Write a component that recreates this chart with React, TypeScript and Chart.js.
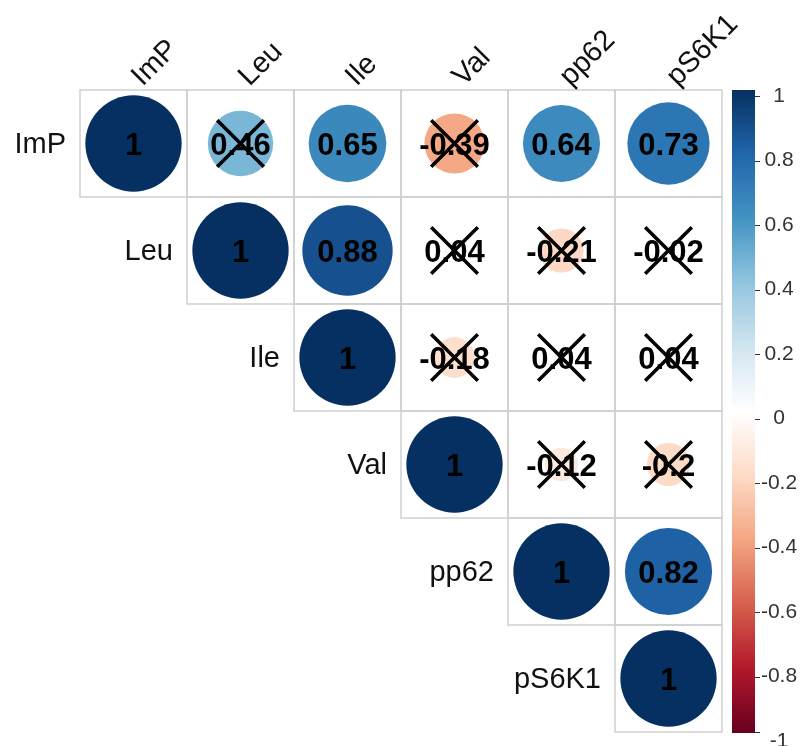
import React, { useEffect, useRef } from "react";
import Chart from "chart.js/auto";

// Variables of the correlation matrix (rows and columns share the same order)
const variables = ["ImP", "Leu", "Ile", "Val", "pp62", "pS6K1"];

// Upper triangle of the correlation matrix, each row starting at the diagonal
const rowImP = [1, 0.46, 0.65, -0.39, 0.64, 0.73];
const rowLeu = [1, 0.88, 0.04, -0.21, -0.02];
const rowIle = [1, -0.18, 0.04, 0.04];
const rowVal = [1, -0.12, -0.2];
const rowPp62 = [1, 0.82];
const rowPS6K1 = [1];
const corrRows = [rowImP, rowLeu, rowIle, rowVal, rowPp62, rowPS6K1];

// Pairs whose correlation is not significant; these cells are crossed out
const insignificantPairs = [
  ["ImP", "Leu"],
  ["ImP", "Val"],
  ["Leu", "Val"],
  ["Leu", "pp62"],
  ["Leu", "pS6K1"],
  ["Ile", "Val"],
  ["Ile", "pp62"],
  ["Ile", "pS6K1"],
  ["Val", "pp62"],
  ["Val", "pS6K1"],
];

// Colour key labels, top to bottom
const legendTicks = ["1", "0.8", "0.6", "0.4", "0.2", "0", "-0.2", "-0.4", "-0.6", "-0.8", "-1"];

// Diverging red-white-blue palette from -1 to 1
const palette = [
  "#67001F", "#B2182B", "#D6604D", "#F4A582", "#FDDBC7", "#FFFFFF",
  "#D1E5F0", "#92C5DE", "#4393C3", "#2166AC", "#053061",
];

const FONT = "'Liberation Sans', Arial, sans-serif";

function hexToRgb(h: string): number[] {
  return [1, 3, 5].map((i) => parseInt(h.slice(i, i + 2), 16));
}

function corrColor(r: number): string {
  const t = Math.max(0, Math.min(1, (r + 1) / 2)) * (palette.length - 1);
  const i = Math.min(palette.length - 2, Math.floor(t));
  const f = t - i;
  const a = hexToRgb(palette[i]);
  const b = hexToRgb(palette[i + 1]);
  const c = a.map((v, k) => Math.round(v + (b[k] - v) * f));
  return `rgb(${c[0]},${c[1]},${c[2]})`;
}

function formatCorr(r: number): string {
  return String(Number(r.toFixed(2)));
}

type Cell = { x: number; y: number; r: number };

const cells: Cell[] = [];
corrRows.forEach((row, i) => {
  row.forEach((r, k) => {
    cells.push({ x: i + k + 0.5, y: i + 0.5, r });
  });
});

const crossCells = insignificantPairs.map(([a, b]) => {
  const i = variables.indexOf(a);
  const j = variables.indexOf(b);
  return { x: j + 0.5, y: i + 0.5 };
});

const n = variables.length;

const corrPlugin = {
  id: "corrDecor",
  beforeDatasetsDraw(chart: any) {
    const { ctx, scales } = chart;
    const xs = scales.x;
    const ys = scales.y;
    ctx.save();
    ctx.strokeStyle = "#cfcfcf";
    ctx.lineWidth = 1.5;
    for (let i = 0; i < n; i++) {
      for (let j = i; j < n; j++) {
        const x0 = xs.getPixelForValue(j);
        const x1 = xs.getPixelForValue(j + 1);
        const y0 = ys.getPixelForValue(i);
        const y1 = ys.getPixelForValue(i + 1);
        ctx.strokeRect(x0, y0, x1 - x0, y1 - y0);
      }
    }
    ctx.restore();
  },
  afterDatasetsDraw(chart: any) {
    const { ctx, scales } = chart;
    const xs = scales.x;
    const ys = scales.y;
    ctx.save();
    ctx.fillStyle = "#000";
    ctx.font = `bold 31px ${FONT}`;
    ctx.textAlign = "center";
    ctx.textBaseline = "middle";
    cells.forEach((c) => {
      ctx.fillText(formatCorr(c.r), xs.getPixelForValue(c.x), ys.getPixelForValue(c.y) + 3);
    });
    ctx.restore();
  },
  afterDraw(chart: any) {
    const { ctx, scales, chartArea } = chart;
    const xs = scales.x;
    const ys = scales.y;
    ctx.save();
    ctx.fillStyle = "#111";
    ctx.font = `29px ${FONT}`;

    // row labels, right-aligned next to the diagonal cell
    ctx.textAlign = "right";
    ctx.textBaseline = "middle";
    variables.forEach((v, i) => {
      ctx.fillText(v, xs.getPixelForValue(i) - 14, ys.getPixelForValue(i + 0.5) + 1);
    });

    // column labels, rotated 45 degrees above the top row
    ctx.textAlign = "left";
    ctx.textBaseline = "alphabetic";
    variables.forEach((v, j) => {
      ctx.save();
      ctx.translate(xs.getPixelForValue(j + 0.5) + 9, chartArea.top - 3);
      ctx.rotate(-Math.PI / 4);
      ctx.fillText(v, 0, 0);
      ctx.restore();
    });

    // colour key
    const barL = chartArea.right + 10;
    const barR = chartArea.right + 33;
    const barT = chartArea.top;
    const barB = chartArea.bottom + 1;
    const grad = ctx.createLinearGradient(0, barT, 0, barB);
    palette.forEach((col, k) => {
      grad.addColorStop(1 - k / (palette.length - 1), col);
    });
    ctx.fillStyle = grad;
    ctx.fillRect(barL, barT, barR - barL, barB - barT);

    const labT = chartArea.top + 6;
    const labB = chartArea.bottom + 9;
    ctx.strokeStyle = "#333";
    ctx.lineWidth = 1;
    ctx.fillStyle = "#333";
    ctx.font = `21px ${FONT}`;
    ctx.textAlign = "center";
    ctx.textBaseline = "middle";
    legendTicks.forEach((t, k) => {
      const y = labT + ((labB - labT) * k) / (legendTicks.length - 1);
      const ty = Math.round(Math.max(barT, Math.min(barB - 1, y))) + 0.5;
      ctx.beginPath();
      ctx.moveTo(barR, ty);
      ctx.lineTo(barR + 5, ty);
      ctx.stroke();
      ctx.fillText(t, chartArea.right + 57, y);
    });
    ctx.restore();
  },
};

export default function App() {
  const canvasRef = useRef<HTMLCanvasElement | null>(null);

  useEffect(() => {
    const canvas = canvasRef.current;
    if (!canvas) return;
    const cellRadius = (ctx: any, r: number) => {
      const area = ctx.chart.chartArea;
      const cell = area ? (area.right - area.left) / n : 107;
      return 0.45 * cell * Math.sqrt(Math.abs(r));
    };
    const chart = new Chart(canvas, {
      type: "scatter",
      data: {
        datasets: [
          {
            label: "not significant",
            data: crossCells,
            order: 0,
            pointStyle: "crossRot",
            pointRadius: 33,
            pointHoverRadius: 33,
            borderColor: "#000",
            borderWidth: 3.5,
            pointBorderWidth: 3.5,
            pointHoverBorderWidth: 3.5,
            backgroundColor: "rgba(0,0,0,0)",
          },
          {
            label: "correlation",
            data: cells,
            order: 1,
            pointStyle: "circle",
            pointRadius: (ctx: any) => cellRadius(ctx, (ctx.raw as Cell)?.r ?? 0),
            pointHoverRadius: (ctx: any) => cellRadius(ctx, (ctx.raw as Cell)?.r ?? 0),
            pointBackgroundColor: (ctx: any) => corrColor((ctx.raw as Cell)?.r ?? 0),
            pointHoverBackgroundColor: (ctx: any) => corrColor((ctx.raw as Cell)?.r ?? 0),
            pointBorderWidth: 0,
            pointHoverBorderWidth: 0,
          },
        ],
      },
      options: {
        responsive: false,
        devicePixelRatio: 1,
        animation: false,
        events: [],
        layout: { autoPadding: false, padding: { left: 80, right: 82, top: 90, bottom: 14 } },
        scales: {
          x: { type: "linear", min: 0, max: n, display: false },
          y: { type: "linear", min: 0, max: n, reverse: true, display: false },
        },
        plugins: {
          legend: { display: false },
          tooltip: { enabled: false },
        },
      },
      plugins: [corrPlugin],
    });
    return () => chart.destroy();
  }, []);

  return (
    <div style={{ position: "absolute", left: 0, top: 0, width: 804, height: 746, background: "#fff" }}>
      <canvas ref={canvasRef} width={804} height={746} style={{ display: "block" }} />
    </div>
  );
}
